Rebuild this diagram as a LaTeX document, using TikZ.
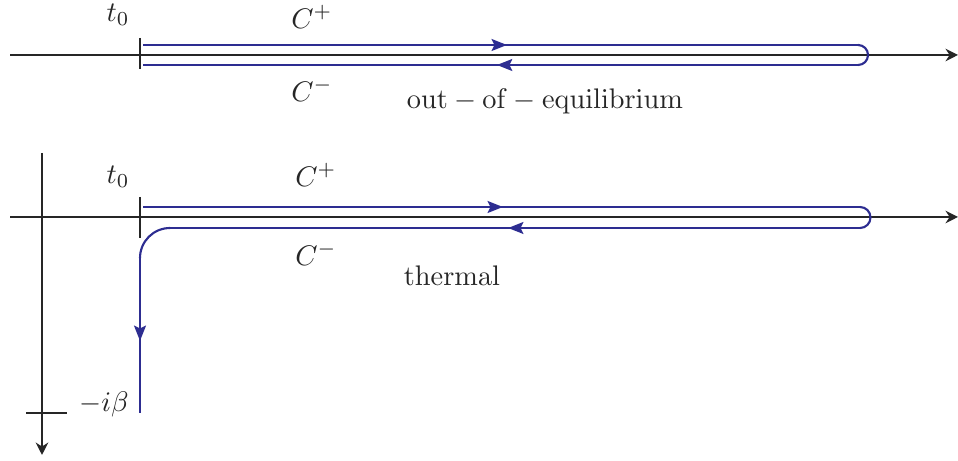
\documentclass[tikz,border=0pt]{standalone}
\usetikzlibrary{arrows.meta,decorations.markings}

\begin{document}
\begin{tikzpicture}[
  x=0.353pt, y=-0.353pt,
  axis/.style={line width=0.7pt, draw=black!85, -{Stealth[length=4.4pt, width=4.4pt]}},
  tickline/.style={line width=0.7pt, draw=black!85},
  contour/.style={line width=0.75pt, draw=cblue},
  midarrow/.style={postaction={decorate}, decoration={markings,
      mark=at position #1 with {\arrow{Stealth[length=5.4pt, width=4.2pt, inset=1pt]}}}},
  midarrow/.default=0.5,
  lbl/.style={inner sep=0pt, text=black!85}
]
\definecolor{cblue}{RGB}{45,45,145}
\useasboundingbox (0,0) rectangle (958,461);

% out-of-equilibrium contour
\coordinate (axL) at (10,55);
\coordinate (axR) at (958,55);
\coordinate (tkA) at (140,38);
\coordinate (tkB) at (140,69);
\coordinate (cpS) at (143,45);
\coordinate (cpE) at (858,45);
\coordinate (cmS) at (858,65);
\coordinate (cmE) at (143,65);
\draw[axis] (axL) -- (axR);
\draw[tickline] (tkA) -- (tkB);
\draw[contour, midarrow=0.509] (cpS) -- (cpE);
\draw[contour, rounded corners=3.5pt] (cpE) -- (868,45) -- (868,65) -- (cmS);
\draw[contour, midarrow=0.505] (cmS) -- (cmE);
\node[lbl] (tzero) at (118,15) {$t_0$};
\node[lbl] (cplus) at (312,17) {$C^+$};
\node[lbl] (cminus) at (312,90) {$C^-$};
\node[lbl] (noneq) at (545,101) {$\rm out-of-equilibrium$};

% thermal contour
\coordinate (bxL) at (10,217);
\coordinate (bxR) at (958,217);
\coordinate (vxT) at (42,153);
\coordinate (vxB) at (42,455);
\coordinate (btA) at (140,197);
\coordinate (btB) at (140,238);
\coordinate (vtL) at (26,413);
\coordinate (vtR) at (67,413);
\coordinate (bpS) at (143,207);
\coordinate (bpE) at (860,207);
\coordinate (bmS) at (860,228);
\coordinate (bmE) at (170,228);
\coordinate (vdS) at (140,258);
\coordinate (vdE) at (140,413);
\draw[axis] (bxL) -- (bxR);
\draw[axis] (vxT) -- (vxB);
\draw[tickline] (btA) -- (btB);
\draw[tickline] (vtL) -- (vtR);
\draw[contour, midarrow=0.502] (bpS) -- (bpE);
\draw[contour, rounded corners=3.7pt] (bpE) -- (870.5,207) -- (870.5,228) -- (bmS);
\draw[contour, midarrow=0.51] (bmS) -- (bmE);
\draw[contour, rounded corners=10.6pt] (bmE) -- (140,228) -- (vdS);
\draw[contour, midarrow=0.535] (vdS) -- (vdE);
\node[lbl] (tzerob) at (118,177) {$t_0$};
\node[lbl] (cplusb) at (316,175) {$C^+$};
\node[lbl] (cminusb) at (316,254) {$C^-$};
\node[lbl] (ibeta) at (104,404) {$-i\beta$};
\node[lbl] (therm) at (452,276) {$\rm thermal$};
\end{tikzpicture}
\end{document}
